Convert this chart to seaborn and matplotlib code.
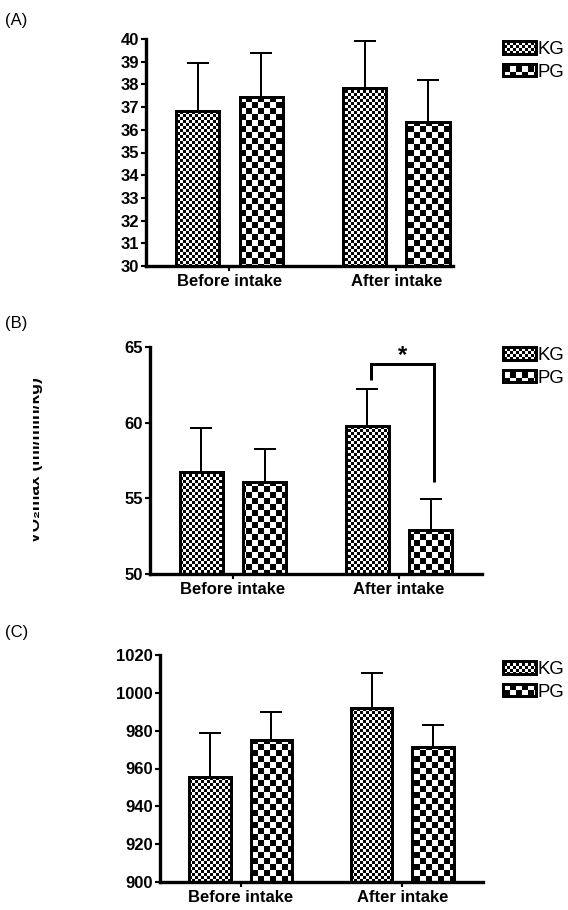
import numpy as np
import pandas as pd
import matplotlib
matplotlib.use("Agg")
import matplotlib.pyplot as plt
import seaborn as sns
from matplotlib import hatch as mhatch
from matplotlib.path import Path
from matplotlib.transforms import Bbox, TransformedBbox

# ---------------- data ----------------
times = ["Before intake", "After intake"]
groups = ["KG", "PG"]

a_kg_mean = [36.83, 37.83]
a_kg_sd = [2.10, 2.10]
a_pg_mean = [37.45, 36.33]
a_pg_sd = [1.95, 1.88]

b_kg_mean = [56.72, 59.78]
b_kg_sd = [2.95, 2.47]
b_pg_mean = [56.07, 52.90]
b_pg_sd = [2.19, 2.03]

c_kg_mean = [955.7, 992.2]
c_kg_sd = [23.1, 18.1]
c_pg_mean = [975.2, 971.4]
c_pg_sd = [14.5, 11.4]

a_yticks = list(range(30, 41, 1))
b_yticks = [50, 55, 60, 65]
c_yticks = list(range(900, 1021, 20))

b_ylabel = "VO\u2082max (ml/min/kg)"
b_bracket_levels = [62.8, 63.86, 56.06]   # left leg bottom, bracket top, right leg bottom
b_star = "*"

panel_labels = ["(A)", "(B)", "(C)"]

# ---------------- style ----------------
W, H, DPI = 568, 910, 96
sns.set_theme(style="ticks")
plt.rcParams["font.family"] = ["Liberation Sans", "DejaVu Sans"]
plt.rcParams["hatch.linewidth"] = 0.0
plt.rcParams["hatch.color"] = "black"


class _Checker(mhatch.HatchPatternBase):
    key = "."
    cells = 32

    def __init__(self, hatch, density):
        self.n = self.cells if (hatch is not None and self.key in hatch) else 0
        self.num_vertices = (self.n * self.n // 2) * 5

    def set_vertices_and_codes(self, vertices, codes):
        s = 1.0 / self.n
        k = 0
        for i in range(self.n):
            for j in range(self.n):
                if (i + j) % 2 == 0:
                    x0, y0 = i * s, j * s
                    vertices[k:k + 5] = [(x0, y0), (x0 + s, y0), (x0 + s, y0 + s),
                                         (x0, y0 + s), (x0, y0)]
                    codes[k:k + 5] = [Path.MOVETO, Path.LINETO, Path.LINETO,
                                      Path.LINETO, Path.CLOSEPOLY]
                    k += 5


class _FineChecker(_Checker):
    key = "."
    cells = 32


class _CoarseChecker(_Checker):
    key = "O"
    cells = 16


mhatch._hatch_types = [_FineChecker, _CoarseChecker]
group_hatch = {"KG": ".", "PG": "O"}

BAR_LW = 2.25
SPINE_LW = 2.5
ERR_LW = 1.5

panels = [
    dict(kg=a_kg_mean, kg_sd=a_kg_sd, pg=a_pg_mean, pg_sd=a_pg_sd,
         yticks=a_yticks, box=(146, 453, 39, 266), xmax=1.34, legend_top=41,
         label_y=20.5),
    dict(kg=b_kg_mean, kg_sd=b_kg_sd, pg=b_pg_mean, pg_sd=b_pg_sd,
         yticks=b_yticks, box=(150, 482, 347, 574), xmax=1.5, legend_top=347,
         label_y=323),
    dict(kg=c_kg_mean, kg_sd=c_kg_sd, pg=c_pg_mean, pg_sd=c_pg_sd,
         yticks=c_yticks, box=(160, 483, 655, 882), xmax=1.5, legend_top=661,
         label_y=633),
]

fig = plt.figure(figsize=(W / DPI, H / DPI), dpi=DPI)
fig.patch.set_facecolor("white")

for idx, spec in enumerate(panels):
    l, r, t, b = spec["box"]
    ax = fig.add_axes([l / W, 1 - b / H, (r - l) / W, (b - t) / H])
    df = pd.DataFrame({
        "time": times * 2,
        "group": [groups[0]] * len(times) + [groups[1]] * len(times),
        "value": list(spec["kg"]) + list(spec["pg"]),
    })
    sns.barplot(data=df, x="time", y="value", hue="group", order=times,
                hue_order=groups, palette={g: "white" for g in groups},
                edgecolor="black", linewidth=BAR_LW, width=0.76, gap=0.32,
                errorbar=None, legend=False, saturation=1, ax=ax)
    bars = list(ax.containers)
    for cont, g in zip(bars, groups):
        for p in cont:
            p.set_hatch(group_hatch[g])
            p.set_edgecolor("black")
            p.set_linewidth(BAR_LW)
            p.set_joinstyle("miter")

    for cont, sd in zip(bars, [spec["kg_sd"], spec["pg_sd"]]):
        xs = [p.get_x() + p.get_width() / 2 for p in cont]
        ys = [p.get_y() + p.get_height() for p in cont]
        ax.errorbar(xs, ys, yerr=[np.zeros(len(sd)), sd], fmt="none",
                    ecolor="black", elinewidth=ERR_LW, capsize=8.25,
                    capthick=ERR_LW, zorder=0.5)

    ax.set_ylim(spec["yticks"][0], spec["yticks"][-1])
    ax.set_yticks(spec["yticks"])
    ax.set_xlim(-0.5, spec["xmax"])
    ax.set_xlabel("")
    ax.set_ylabel("")
    sns.despine(ax=ax)
    for s in ("left", "bottom"):
        ax.spines[s].set_linewidth(SPINE_LW)
        ax.spines[s].set_color("black")
    ax.tick_params(axis="both", direction="out", length=4, width=1.6,
                   color="black")
    ax.tick_params(axis="y", labelsize=12.5, pad=1.5)
    ax.tick_params(axis="x", labelsize=12.5, pad=2)
    for lab in ax.get_xticklabels() + ax.get_yticklabels():
        lab.set_fontweight("bold")
        lab.set_color("black")
    ax.set_facecolor("white")

    fs = 14
    fs_px = fs * DPI / 72
    leg = ax.legend(bars, groups, loc="upper left",
                    bbox_to_anchor=(503 / W, 1 - spec["legend_top"] / H),
                    bbox_transform=fig.transFigure, frameon=False, borderpad=0,
                    borderaxespad=0, fontsize=fs, handlelength=33 / fs_px,
                    handleheight=12 / fs_px, handletextpad=0.08,
                    labelspacing=0.3)
    for txt in leg.get_texts():
        txt.set_color("black")

    fig.text(5 / W, 1 - spec["label_y"] / H, panel_labels[idx], ha="left",
             va="center", fontsize=12.5, color="black")

    if idx == 1:
        kg_after = bars[0][1]
        pg_after = bars[1][1]
        off = 0.02
        x1 = kg_after.get_x() + kg_after.get_width() / 2 + off
        x2 = pg_after.get_x() + pg_after.get_width() / 2 + off
        lv = b_bracket_levels
        ax.plot([x1, x1, x2, x2], [lv[0], lv[1], lv[1], lv[2]], color="black",
                lw=2.25, solid_joinstyle="miter", solid_capstyle="butt",
                clip_on=False, zorder=4)
        ax.annotate(b_star, xy=((x1 + x2) / 2, lv[1]), xytext=(0, 2),
                    textcoords="offset points", ha="center", va="baseline",
                    fontsize=18, fontweight="bold", color="black")
        cy = (t + b) / 2
        ylab = fig.text(43 / W, 1 - cy / H, b_ylabel, rotation=90, ha="right",
                        va="center", fontsize=13, fontweight="bold",
                        color="black")
        ylab.set_clip_box(TransformedBbox(Bbox.from_extents(33 / W, 0, 1, 1),
                                          fig.transFigure))
        ylab.set_clip_on(True)

fig.savefig("out.png", dpi=DPI, facecolor="white")
